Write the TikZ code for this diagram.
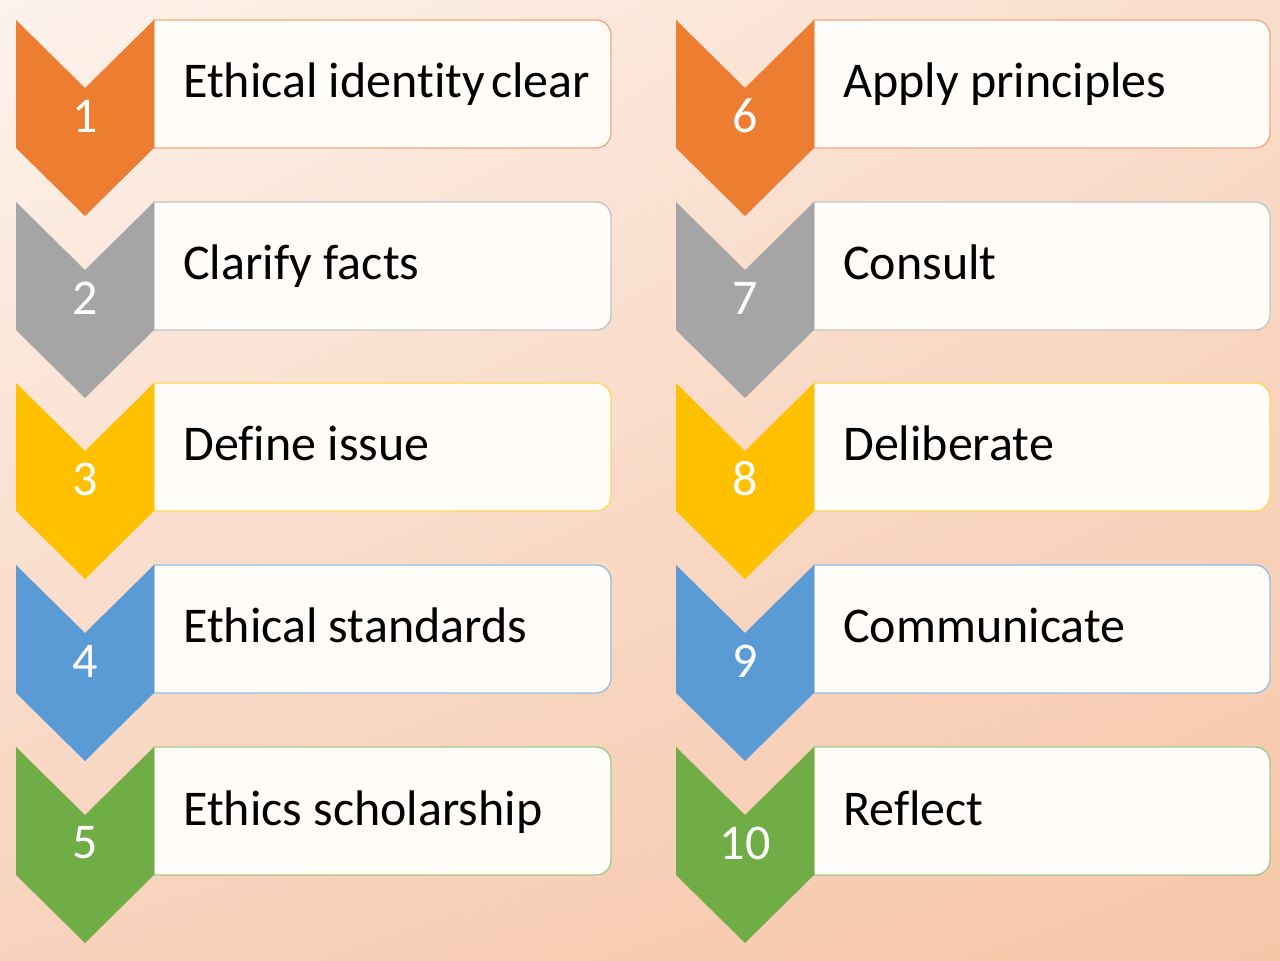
\documentclass[tikz,border=0pt]{standalone}
\usepackage{fontspec}
\setmainfont{Carlito}[Ligatures={NoCommon}]
\usepackage{tikz}
\usetikzlibrary{shadings}
\definecolor{orng}{HTML}{ED7D31}
\definecolor{gry}{HTML}{A5A5A5}
\definecolor{ylw}{HTML}{FFC000}
\definecolor{blu}{HTML}{5B9BD5}
\definecolor{grn}{HTML}{70AD47}
\definecolor{boxfill}{HTML}{FFFCFA}
\definecolor{bgul}{HTML}{FDF3EC}
\definecolor{bgur}{HTML}{FADDCC}
\definecolor{bgll}{HTML}{F8D2BC}
\definecolor{bglr}{HTML}{F6C6A9}
\tikzset{
  numtext/.style={text=white, font=\fontsize{37.5}{44}\selectfont, inner sep=0pt, anchor=center},
  labeltext/.style={text=black, font=\fontsize{37.5}{44}\selectfont, inner sep=0pt, anchor=base west},
  boxline/.style={fill=boxfill, line width=1pt}
}
\def\stepchevron[#1](#2,#3)#4{\fill[#1] (#2,#3) -- (#2+69,#3-68) -- (#2+138,#3) -- (#2+138,#3-128) -- (#2+69,#3-196) -- (#2,#3-128) -- cycle;
\node[numtext] (num#4) at (#2+69,#3-96) {#4};}
\def\stepbox[#1](#2,#3)(#4)#5#6{\draw[boxline, draw=#1] (#2,#3) -- (#4-15,#3) arc[start angle=90, end angle=0, radius=15] -- (#4,#3-113) arc[start angle=0, end angle=-90, radius=15] -- (#2,#3-128) -- cycle;
\node[labeltext] (#5) at (#2+29,#3-78) {#6};}

\begin{document}
\begin{tikzpicture}[x=0.75pt, y=0.75pt]
			%%%%% BACKGROUND %%%%%
			\useasboundingbox (0,0) rectangle (1280,960);
			\shade[upper left=bgul, upper right=bgur, lower left=bgll, lower right=bglr] (0,0) rectangle (1280,960);
			
			%%%%% LEFT COLUMN %%%%%
			\stepbox[orng!65](154,940)(611){lab1}{Ethical identity\hspace{-0.1em} clear}
			\stepchevron[fill=orng](16,940){1}
			
			\stepbox[gry!65](154,758)(611){lab2}{Clarify facts}
			\stepchevron[fill=gry](16,758){2}
			
			\stepbox[ylw!65](154,577)(611){lab3}{Define issue}
			\stepchevron[fill=ylw](16,577){3}
			
			\stepbox[blu!65](154,395)(611){lab4}{Ethical standards}
			\stepchevron[fill=blu](16,395){4}
			
			\stepbox[grn!65](154,213)(611){lab5}{Ethics scholarship}
			\stepchevron[fill=grn](16,213){5}
			
			%%%%% RIGHT COLUMN %%%%%
			\stepbox[orng!65](814,940)(1270){lab6}{Apply principles}
			\stepchevron[fill=orng](676,940){6}
			
			\stepbox[gry!65](814,758)(1270){lab7}{Consult}
			\stepchevron[fill=gry](676,758){7}
			
			\stepbox[ylw!65](814,577)(1270){lab8}{Deliberate}
			\stepchevron[fill=ylw](676,577){8}
			
			\stepbox[blu!65](814,395)(1270){lab9}{Communicate}
			\stepchevron[fill=blu](676,395){9}
			
			\stepbox[grn!65](814,213)(1270){lab10}{Reflect}
			\stepchevron[fill=grn](676,213){10}
			
			%%%%% END %%%%%
\end{tikzpicture}
\end{document}
